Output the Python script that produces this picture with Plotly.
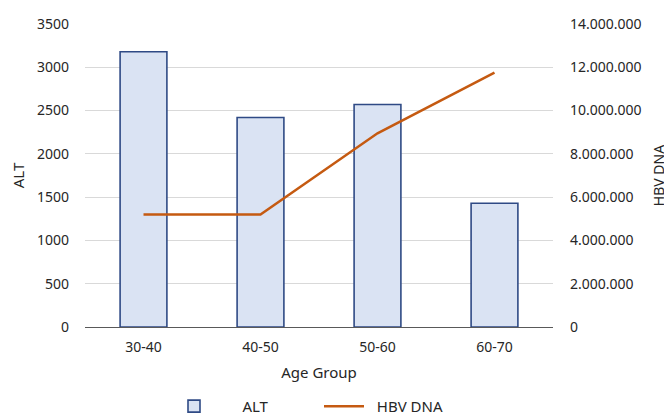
import plotly.graph_objects as go

categories = ["30-40", "40-50", "50-60", "60-70"]
alt_values = [3180, 2420, 2570, 1430]
hbv_values = [5200000, 5200000, 8950000, 11750000]

FONT = "Noto Sans"
NB = "\u00a0"

fig = go.Figure()
fig.add_trace(go.Bar(
    x=categories, y=alt_values, name=NB * 6 + "ALT",
    marker=dict(color="#DAE3F3", line=dict(color="#2F4A85", width=1.6)),
    yaxis="y",
))
fig.add_trace(go.Scatter(
    x=categories, y=hbv_values, name=NB * 2 + "HBV DNA", mode="lines",
    line=dict(color="#C55A11", width=2.5),
    yaxis="y2",
))

fig.update_layout(
    width=672, height=440,
    margin=dict(l=77, r=127, t=16, b=121),
    paper_bgcolor="white", plot_bgcolor="white",
    separators=",.",
    font=dict(family=FONT, size=14, color="#262626"),
    bargap=0.6,
    showlegend=True,
    legend=dict(orientation="h", x=0.5, xanchor="center", y=-0.262, yanchor="middle",
                font=dict(size=15), traceorder="normal", itemwidth=40,
                entrywidthmode="pixels", entrywidth=95),
    xaxis=dict(
        showline=True, linecolor="#595959", linewidth=1,
        showgrid=False, ticks="", tickfont=dict(size=14),
        ticklabelstandoff=7,
        title=dict(text="Age Group", font=dict(size=15), standoff=12),
        automargin=False,
    ),
    yaxis=dict(
        range=[0, 3500], dtick=500, tickformat="d",
        showgrid=True, gridcolor="#D9D9D9", gridwidth=1,
        showline=False, zeroline=False, ticks="",
        ticklabelstandoff=15,
        title=dict(text="ALT", font=dict(size=15), standoff=16),
        automargin=False,
    ),
    yaxis2=dict(
        range=[0, 14000000], dtick=2000000, tickformat=",d",
        overlaying="y", side="right",
        showgrid=False, showline=False, zeroline=False, ticks="",
        ticklabelstandoff=16,
        title=dict(text="HBV DNA", font=dict(size=14), standoff=13),
        automargin=False,
    ),
)

fig.write_html("out.html", post_script="document.body.style.overflow='hidden';")
